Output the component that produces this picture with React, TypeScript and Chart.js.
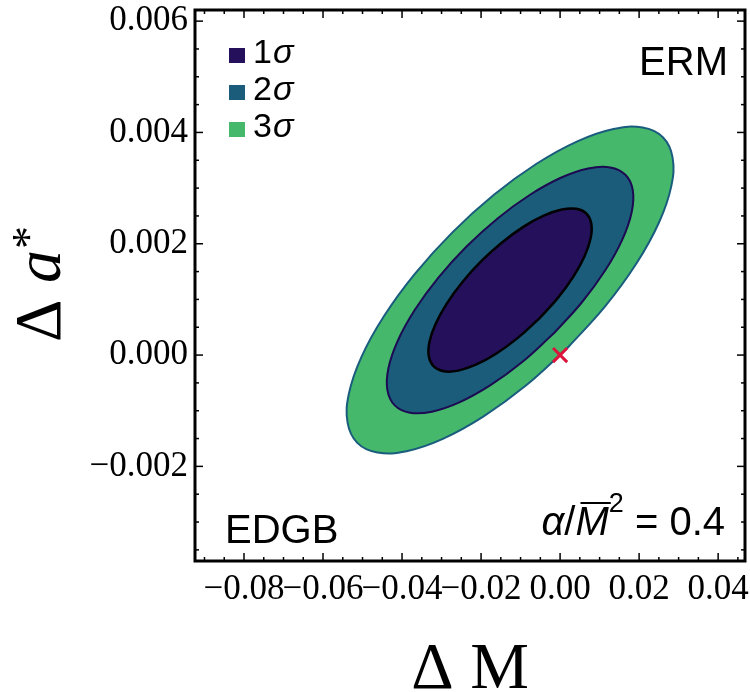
import React, { useEffect, useRef } from "react";
import { Chart, registerables } from "chart.js";

Chart.register(...registerables);

// ---- data ----
const xTicks = [-0.08, -0.06, -0.04, -0.02, 0.0, 0.02, 0.04];
const yTicks = [-0.002, 0.0, 0.002, 0.004, 0.006];
const xRange = [-0.0924, 0.0468];
const yRange = [-0.0037, 0.0062];

const trueValue = [0.0, 0.0];

// 3-sigma contour (outer)
const contour3: [number, number][] = [
  [0.00193, 0.000132], [-0.008574, -0.000543], [-0.019359, -0.001101], [-0.029685, -0.001505],
  [-0.038851, -0.001727], [-0.046233, -0.001751], [-0.051328, -0.001577], [-0.053785, -0.001215],
  [-0.053441, -0.000691], [-0.050319, -0.000041], [-0.044629, 0.000692], [-0.03676, 0.001458],
  [-0.02725, 0.002204], [-0.016746, 0.002879], [-0.005961, 0.003437], [0.004365, 0.003841],
  [0.013531, 0.004063], [0.020913, 0.004087], [0.026008, 0.003913], [0.028465, 0.003551],
  [0.028121, 0.003027], [0.024999, 0.002377], [0.019309, 0.001644], [0.01144, 0.000878],
];

// 2-sigma contour (middle)
const contour2: [number, number][] = [
  [-0.001645, 0.000386], [-0.009576, -0.000124], [-0.017718, -0.000545], [-0.025514, -0.00085],
  [-0.032434, -0.001017], [-0.038008, -0.001036], [-0.041854, -0.000904], [-0.04371, -0.000631],
  [-0.04345, -0.000236], [-0.041092, 0.000256], [-0.036796, 0.000809], [-0.030854, 0.001387],
  [-0.023675, 0.00195], [-0.015744, 0.00246], [-0.007602, 0.002881], [0.000194, 0.003186],
  [0.007114, 0.003353], [0.012688, 0.003372], [0.016534, 0.00324], [0.01839, 0.002967],
  [0.01813, 0.002572], [0.015772, 0.00208], [0.011476, 0.001527], [0.005534, 0.000949],
];

// 1-sigma contour (inner)
const contour1: [number, number][] = [
  [-0.005365, 0.00065], [-0.010618, 0.000313], [-0.01601, 0.000033], [-0.021173, -0.000169],
  [-0.025755, -0.000279], [-0.029447, -0.000292], [-0.031994, -0.000204], [-0.033223, -0.000024],
  [-0.033051, 0.000238], [-0.031489, 0.000564], [-0.028644, 0.00093], [-0.02471, 0.001313],
  [-0.019955, 0.001686], [-0.014702, 0.002023], [-0.00931, 0.002303], [-0.004147, 0.002505],
  [0.000435, 0.002615], [0.004127, 0.002628], [0.006674, 0.00254], [0.007903, 0.00236],
  [0.007731, 0.002098], [0.006169, 0.001772], [0.003324, 0.001406], [-0.00061, 0.001023],
];

const legendLabels = ["1", "2", "3"];

// ---- styles ----
const C1 = "#25105c";
const C2 = "#1b5c7a";
const C3 = "#45b86c";
const SERIF = '"Liberation Serif", "Times New Roman", serif';
const SANS = '"Liberation Sans", Arial, sans-serif';

const closed = (pts: [number, number][]) =>
  [...pts, pts[0]].map(([x, y]) => ({ x, y }));

const fmt = (v: number, d: number) => {
  const s = Math.abs(v).toFixed(d);
  return v < -1e-12 ? "\u2212" + s : s;
};

const zeroPad = (s: any) => {
  s.paddingTop = 0;
  s.paddingBottom = 0;
  s.paddingLeft = 0;
  s.paddingRight = 0;
};

const decorPlugin = {
  id: "decor",
  afterDraw(chart: any) {
    const { ctx, chartArea: a, scales } = chart;
    const xs = scales.x;
    const ys = scales.y;
    ctx.save();
    ctx.strokeStyle = "#000";
    ctx.lineWidth = 1.5;
    const line = (x1: number, y1: number, x2: number, y2: number) => {
      ctx.beginPath();
      ctx.moveTo(x1, y1);
      ctx.lineTo(x2, y2);
      ctx.stroke();
    };
    for (let i = -19; i <= 10; i++) {
      const p = xs.getPixelForValue(i * 0.005);
      if (p < a.left + 2 || p > a.right - 2) continue;
      const len = i % 4 === 0 ? 8 : 4;
      line(p, a.bottom, p, a.bottom - len);
      line(p, a.top, p, a.top + len);
    }
    for (let i = -8; i <= 13; i++) {
      const p = ys.getPixelForValue(i * 0.0005);
      if (p < a.top + 2 || p > a.bottom - 2) continue;
      const len = i % 4 === 0 ? 8 : 4;
      line(a.left, p, a.left + len, p);
      line(a.right, p, a.right - len, p);
    }
    ctx.lineWidth = 3;
    ctx.strokeRect(a.left, a.top, a.right - a.left, a.bottom - a.top);

    ctx.fillStyle = "#000";
    ctx.textBaseline = "alphabetic";
    ctx.textAlign = "left";

    // x title: Δ M
    ctx.font = `66px ${SERIF}`;
    const xt = "\u0394 M";
    const wxt = ctx.measureText(xt).width;
    ctx.fillText(xt, (a.left + a.right) / 2 - wxt / 2, 688);

    // y title: Δ a*
    ctx.save();
    ctx.translate(60, 342);
    ctx.rotate(-Math.PI / 2);
    ctx.font = `66px ${SERIF}`;
    ctx.fillText("\u0394 ", 0, 0);
    let px = ctx.measureText("\u0394 ").width;
    ctx.font = `italic 66px ${SERIF}`;
    ctx.fillText("a", px, 0);
    px += ctx.measureText("a").width + 1;
    ctx.font = `46px ${SERIF}`;
    ctx.fillText("*", px, -16);
    ctx.restore();

    // legend
    const colors = [C1, C2, C3];
    const tops = [48, 85, 122];
    legendLabels.forEach((lab, i) => {
      ctx.fillStyle = colors[i];
      ctx.fillRect(229, tops[i], 16, 15);
      ctx.fillStyle = "#000";
      ctx.font = `34px ${SANS}`;
      ctx.fillText(lab, 253, tops[i] + 15);
      const w = ctx.measureText(lab).width;
      ctx.font = `italic 34px ${SANS}`;
      ctx.fillText("\u03c3", 253 + w + 1, tops[i] + 15);
    });

    // ERM / EDGB
    ctx.font = `40px ${SANS}`;
    ctx.textAlign = "right";
    ctx.fillText("ERM", 728, 75);
    ctx.textAlign = "left";
    ctx.fillText("EDGB", 225, 543);

    // α/M̄² = 0.4
    const base = 535;
    const parts: { t: string; f: string; dy: number }[] = [
      { t: "\u03b1", f: `italic 40px ${SANS}`, dy: 0 },
      { t: "/", f: `40px ${SANS}`, dy: 0 },
      { t: "M", f: `italic 40px ${SANS}`, dy: 0 },
      { t: "2", f: `27px ${SANS}`, dy: -23 },
      { t: " = 0.4", f: `40px ${SANS}`, dy: 0 },
    ];
    let total = 0;
    const widths = parts.map((p) => {
      ctx.font = p.f;
      const w = ctx.measureText(p.t).width;
      total += w;
      return w;
    });
    let cx = 725 - total;
    parts.forEach((p, i) => {
      ctx.font = p.f;
      ctx.fillText(p.t, cx, base + p.dy);
      if (p.t === "M") {
        ctx.lineWidth = 2;
        line(cx + 5, base - 32, cx + widths[i] + 2, base - 32);
      }
      cx += widths[i];
    });
    ctx.restore();
  },
};

export default function App() {
  const ref = useRef<HTMLCanvasElement>(null);
  useEffect(() => {
    document.body.style.margin = "0";
    const contourStyle = {
      showLine: true,
      fill: "shape",
      pointRadius: 0,
      tension: 0.4,
    };
    const chart = new Chart(ref.current as HTMLCanvasElement, {
      type: "scatter",
      data: {
        datasets: [
          {
            label: "true",
            data: [{ x: trueValue[0], y: trueValue[1] }],
            pointStyle: "crossRot",
            pointRadius: 10,
            borderColor: "#dc143c",
            backgroundColor: "#dc143c",
            borderWidth: 3,
            showLine: false,
          },
          {
            ...contourStyle,
            label: "1σ",
            data: closed(contour1),
            backgroundColor: C1,
            borderColor: "#000000",
            borderWidth: 2.5,
          },
          {
            ...contourStyle,
            label: "2σ",
            data: closed(contour2),
            backgroundColor: C2,
            borderColor: "#1c0a52",
            borderWidth: 2,
          },
          {
            ...contourStyle,
            label: "3σ",
            data: closed(contour3),
            backgroundColor: C3,
            borderColor: "#1a5c7e",
            borderWidth: 2,
          },
        ],
      } as any,
      options: {
        responsive: false,
        animation: false,
        devicePixelRatio: 1,
        events: [],
        layout: {
          autoPadding: false,
          padding: { left: 0, right: 5, top: 10, bottom: 0 },
        },
        plugins: {
          legend: { display: false },
          tooltip: { enabled: false },
          title: { display: false },
        },
        scales: {
          x: {
            type: "linear",
            min: xRange[0],
            max: xRange[1],
            grid: { display: false, drawTicks: false },
            border: { display: false },
            afterBuildTicks: (s: any) => {
              s.ticks = xTicks.map((v) => ({ value: v }));
            },
            afterFit: (s: any) => {
              s.height = 131;
              zeroPad(s);
            },
            ticks: {
              padding: 8,
              color: "#000",
              maxRotation: 0,
              minRotation: 0,
              autoSkip: false,
              font: { family: SERIF, size: 35 },
              callback: (v: any) => fmt(Number(v), 2),
            },
          },
          y: {
            type: "linear",
            min: yRange[0],
            max: yRange[1],
            grid: { display: false, drawTicks: false },
            border: { display: false },
            afterBuildTicks: (s: any) => {
              s.ticks = yTicks.map((v) => ({ value: v }));
            },
            afterFit: (s: any) => {
              s.width = 195;
              zeroPad(s);
            },
            ticks: {
              padding: 7,
              color: "#000",
              autoSkip: false,
              font: { family: SERIF, size: 35 },
              callback: (v: any) => fmt(Number(v), 3),
            },
          },
        },
      } as any,
      plugins: [decorPlugin],
    });
    return () => chart.destroy();
  }, []);
  return (
    <canvas
      ref={ref}
      width={750}
      height={692}
      style={{ display: "block", width: 750, height: 692 }}
    />
  );
}
